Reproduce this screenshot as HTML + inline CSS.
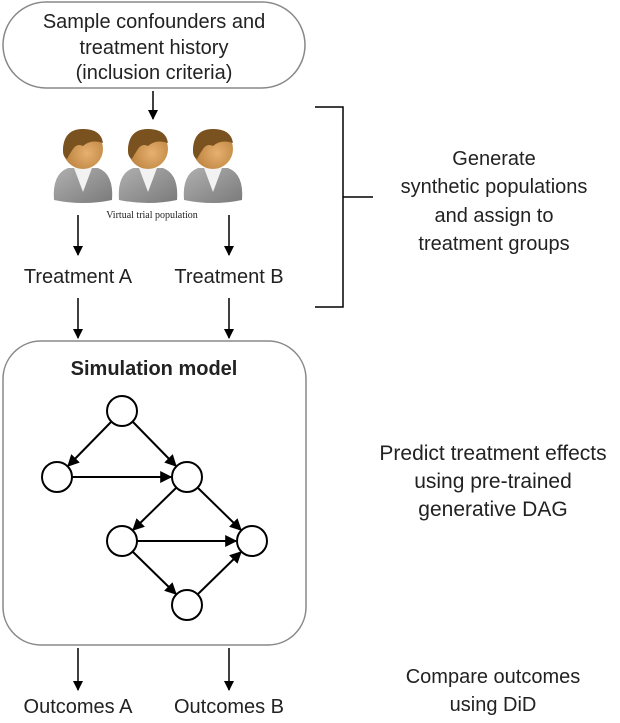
<!DOCTYPE html>
<html><head><meta charset="utf-8"><style>
body{margin:0;background:#fff}
text{font-family:"Liberation Sans",sans-serif;fill:#222}
</style></head><body>
<svg width="620" height="718" viewBox="0 0 620 718" xmlns="http://www.w3.org/2000/svg">
<defs>
<marker id="a" viewBox="0 0 10 10" refX="9" refY="5" markerWidth="11" markerHeight="10" markerUnits="userSpaceOnUse" orient="auto"><path d="M0,0 L10,5 L0,10 z" fill="#000"/></marker>
<marker id="b" viewBox="0 0 10 10" refX="9" refY="5" markerWidth="12" markerHeight="12" markerUnits="userSpaceOnUse" orient="auto"><path d="M0,0 L10,5 L0,10 z" fill="#000"/></marker>
<radialGradient id="skin" cx="0.6" cy="0.6" r="0.6"><stop offset="0" stop-color="#e8b070"/><stop offset="1" stop-color="#b8803a"/></radialGradient>
<linearGradient id="coat" x1="0" y1="0" x2="1" y2="1"><stop offset="0" stop-color="#b0b0b0"/><stop offset="1" stop-color="#7a7a7a"/></linearGradient>
<g id="p">
<path d="M-29,52 Q-31,26 -15,20 L15,20 Q31,26 29,52 Q0,58 -29,52z" fill="url(#coat)"/>
<path d="M-9,20 L0,44 L9,20z" fill="#f2f2f2"/>
<circle cx="0" cy="1" r="20" fill="url(#skin)"/>
<path d="M-20,3 Q-20,-19 0,-19 Q18,-19 20,-5 Q8,-9 0,-2 Q-6,-5 -10,1 Q-14,7 -16,11 Q-20,9 -20,3z" fill="#7a5220"/>
</g>
</defs>
<rect x="3" y="2" width="302" height="86" rx="43" fill="none" stroke="#888" stroke-width="1.5"/>
<text x="154" y="28" font-size="20" text-anchor="middle">Sample confounders and</text>
<text x="154" y="54" font-size="20" text-anchor="middle">treatment history</text>
<text x="154" y="79" font-size="20" text-anchor="middle">(inclusion criteria)</text>
<line x1="153" y1="91" x2="153" y2="119" stroke="#000" stroke-width="1.5" marker-end="url(#a)"/>
<use href="#p" x="83" y="148"/>
<use href="#p" x="148" y="148"/>
<use href="#p" x="213" y="148"/>
<text x="152" y="218" font-size="10" text-anchor="middle" style="font-family:'Liberation Serif',serif">Virtual trial population</text>
<line x1="78" y1="215" x2="78" y2="255" stroke="#000" stroke-width="1.5" marker-end="url(#a)"/>
<line x1="229" y1="215" x2="229" y2="255" stroke="#000" stroke-width="1.5" marker-end="url(#a)"/>
<text x="78" y="283" font-size="20" text-anchor="middle">Treatment A</text>
<text x="229" y="283" font-size="20" text-anchor="middle">Treatment B</text>
<line x1="78" y1="298" x2="78" y2="338" stroke="#000" stroke-width="1.5" marker-end="url(#a)"/>
<line x1="229" y1="298" x2="229" y2="338" stroke="#000" stroke-width="1.5" marker-end="url(#a)"/>
<path d="M315,107 H343 V307 H315 M343,197 H373" fill="none" stroke="#000" stroke-width="1.5"/>
<text x="494" y="165" font-size="20" text-anchor="middle">Generate</text>
<text x="494" y="193" font-size="20" text-anchor="middle">synthetic populations</text>
<text x="494" y="222" font-size="20" text-anchor="middle">and assign to</text>
<text x="494" y="250" font-size="20" text-anchor="middle">treatment groups</text>
<rect x="3" y="341" width="303" height="304" rx="38" fill="none" stroke="#888" stroke-width="1.5"/>
<text x="154" y="375" font-size="20" font-weight="bold" text-anchor="middle">Simulation model</text>
<g stroke="#000" stroke-width="2" fill="none">
<line x1="111" y1="422" x2="68" y2="466" marker-end="url(#b)"/>
<line x1="133" y1="422" x2="176" y2="466" marker-end="url(#b)"/>
<line x1="72" y1="477" x2="171" y2="477" marker-end="url(#b)"/>
<line x1="176" y1="488" x2="133" y2="530" marker-end="url(#b)"/>
<line x1="198" y1="488" x2="241" y2="530" marker-end="url(#b)"/>
<line x1="137" y1="541" x2="236" y2="541" marker-end="url(#b)"/>
<line x1="133" y1="552" x2="176" y2="594" marker-end="url(#b)"/>
<line x1="198" y1="594" x2="241" y2="552" marker-end="url(#b)"/>
<circle cx="122" cy="411" r="15" fill="#fff"/>
<circle cx="57" cy="477" r="15" fill="#fff"/>
<circle cx="187" cy="477" r="15" fill="#fff"/>
<circle cx="122" cy="541" r="15" fill="#fff"/>
<circle cx="252" cy="541" r="15" fill="#fff"/>
<circle cx="187" cy="605" r="15" fill="#fff"/>
</g>
<text x="493" y="460" font-size="21" text-anchor="middle">Predict treatment effects</text>
<text x="493" y="488" font-size="21" text-anchor="middle">using pre-trained</text>
<text x="493" y="516" font-size="21" text-anchor="middle">generative DAG</text>
<line x1="78" y1="648" x2="78" y2="690" stroke="#000" stroke-width="1.5" marker-end="url(#a)"/>
<line x1="229" y1="648" x2="229" y2="690" stroke="#000" stroke-width="1.5" marker-end="url(#a)"/>
<text x="78" y="713" font-size="20" text-anchor="middle">Outcomes A</text>
<text x="229" y="713" font-size="20" text-anchor="middle">Outcomes B</text>
<text x="493" y="683" font-size="20" text-anchor="middle">Compare outcomes</text>
<text x="493" y="711" font-size="20" text-anchor="middle">using DiD</text>
</svg>
</body></html>
